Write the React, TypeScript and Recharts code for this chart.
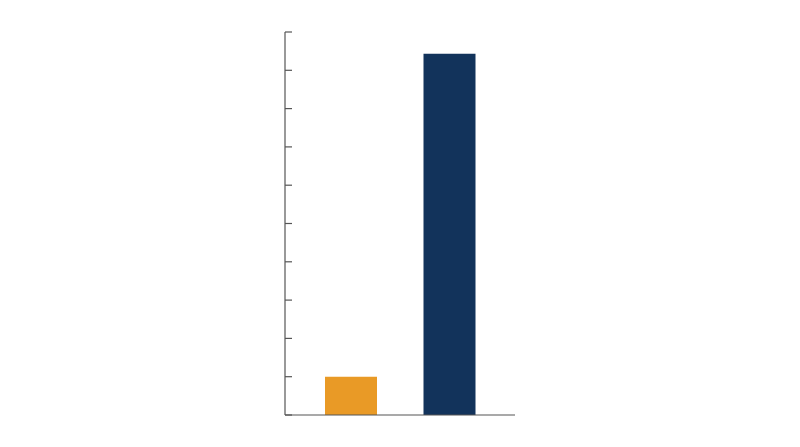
import React from 'react'
import { BarChart, Bar, XAxis, YAxis, Cell } from 'recharts'

const categories = ['A', 'B']
const values = [1, 9.43]
const colors = ['#E99A26', '#12335B']
const yTicks = [0, 1, 2, 3, 4, 5, 6, 7, 8, 9, 10]

const data = categories.map((name, i) => ({ name, value: values[i] }))

// no tick labels, only the tick marks
const EmptyTick = () => <g />

const App: React.FC = () => {
  return (
    <div style={{ position: 'fixed', left: 0, top: 0 }}>
      <BarChart
        width={800}
        height={447}
        data={data}
        margin={{ top: 32, right: 285, bottom: 31, left: 285 }}
        barSize={52}
      >
        <XAxis
          dataKey="name"
          tick={false}
          tickLine={false}
          height={1}
          padding={{ left: 17, right: 16 }}
          axisLine={{ stroke: '#555', strokeWidth: 1.2 }}
        />
        <YAxis
          domain={[0, 10]}
          ticks={yTicks}
          width={1}
          mirror
          tick={EmptyTick}
          tickSize={7}
          axisLine={{ stroke: '#555', strokeWidth: 1.2 }}
          tickLine={{ stroke: '#555', strokeWidth: 1.2 }}
        />
        <Bar dataKey="value" isAnimationActive={false}>
          {data.map((entry, index) => (
            <Cell key={`cell-${index}`} fill={colors[index % colors.length]} />
          ))}
        </Bar>
      </BarChart>
    </div>
  )
}

export default App
